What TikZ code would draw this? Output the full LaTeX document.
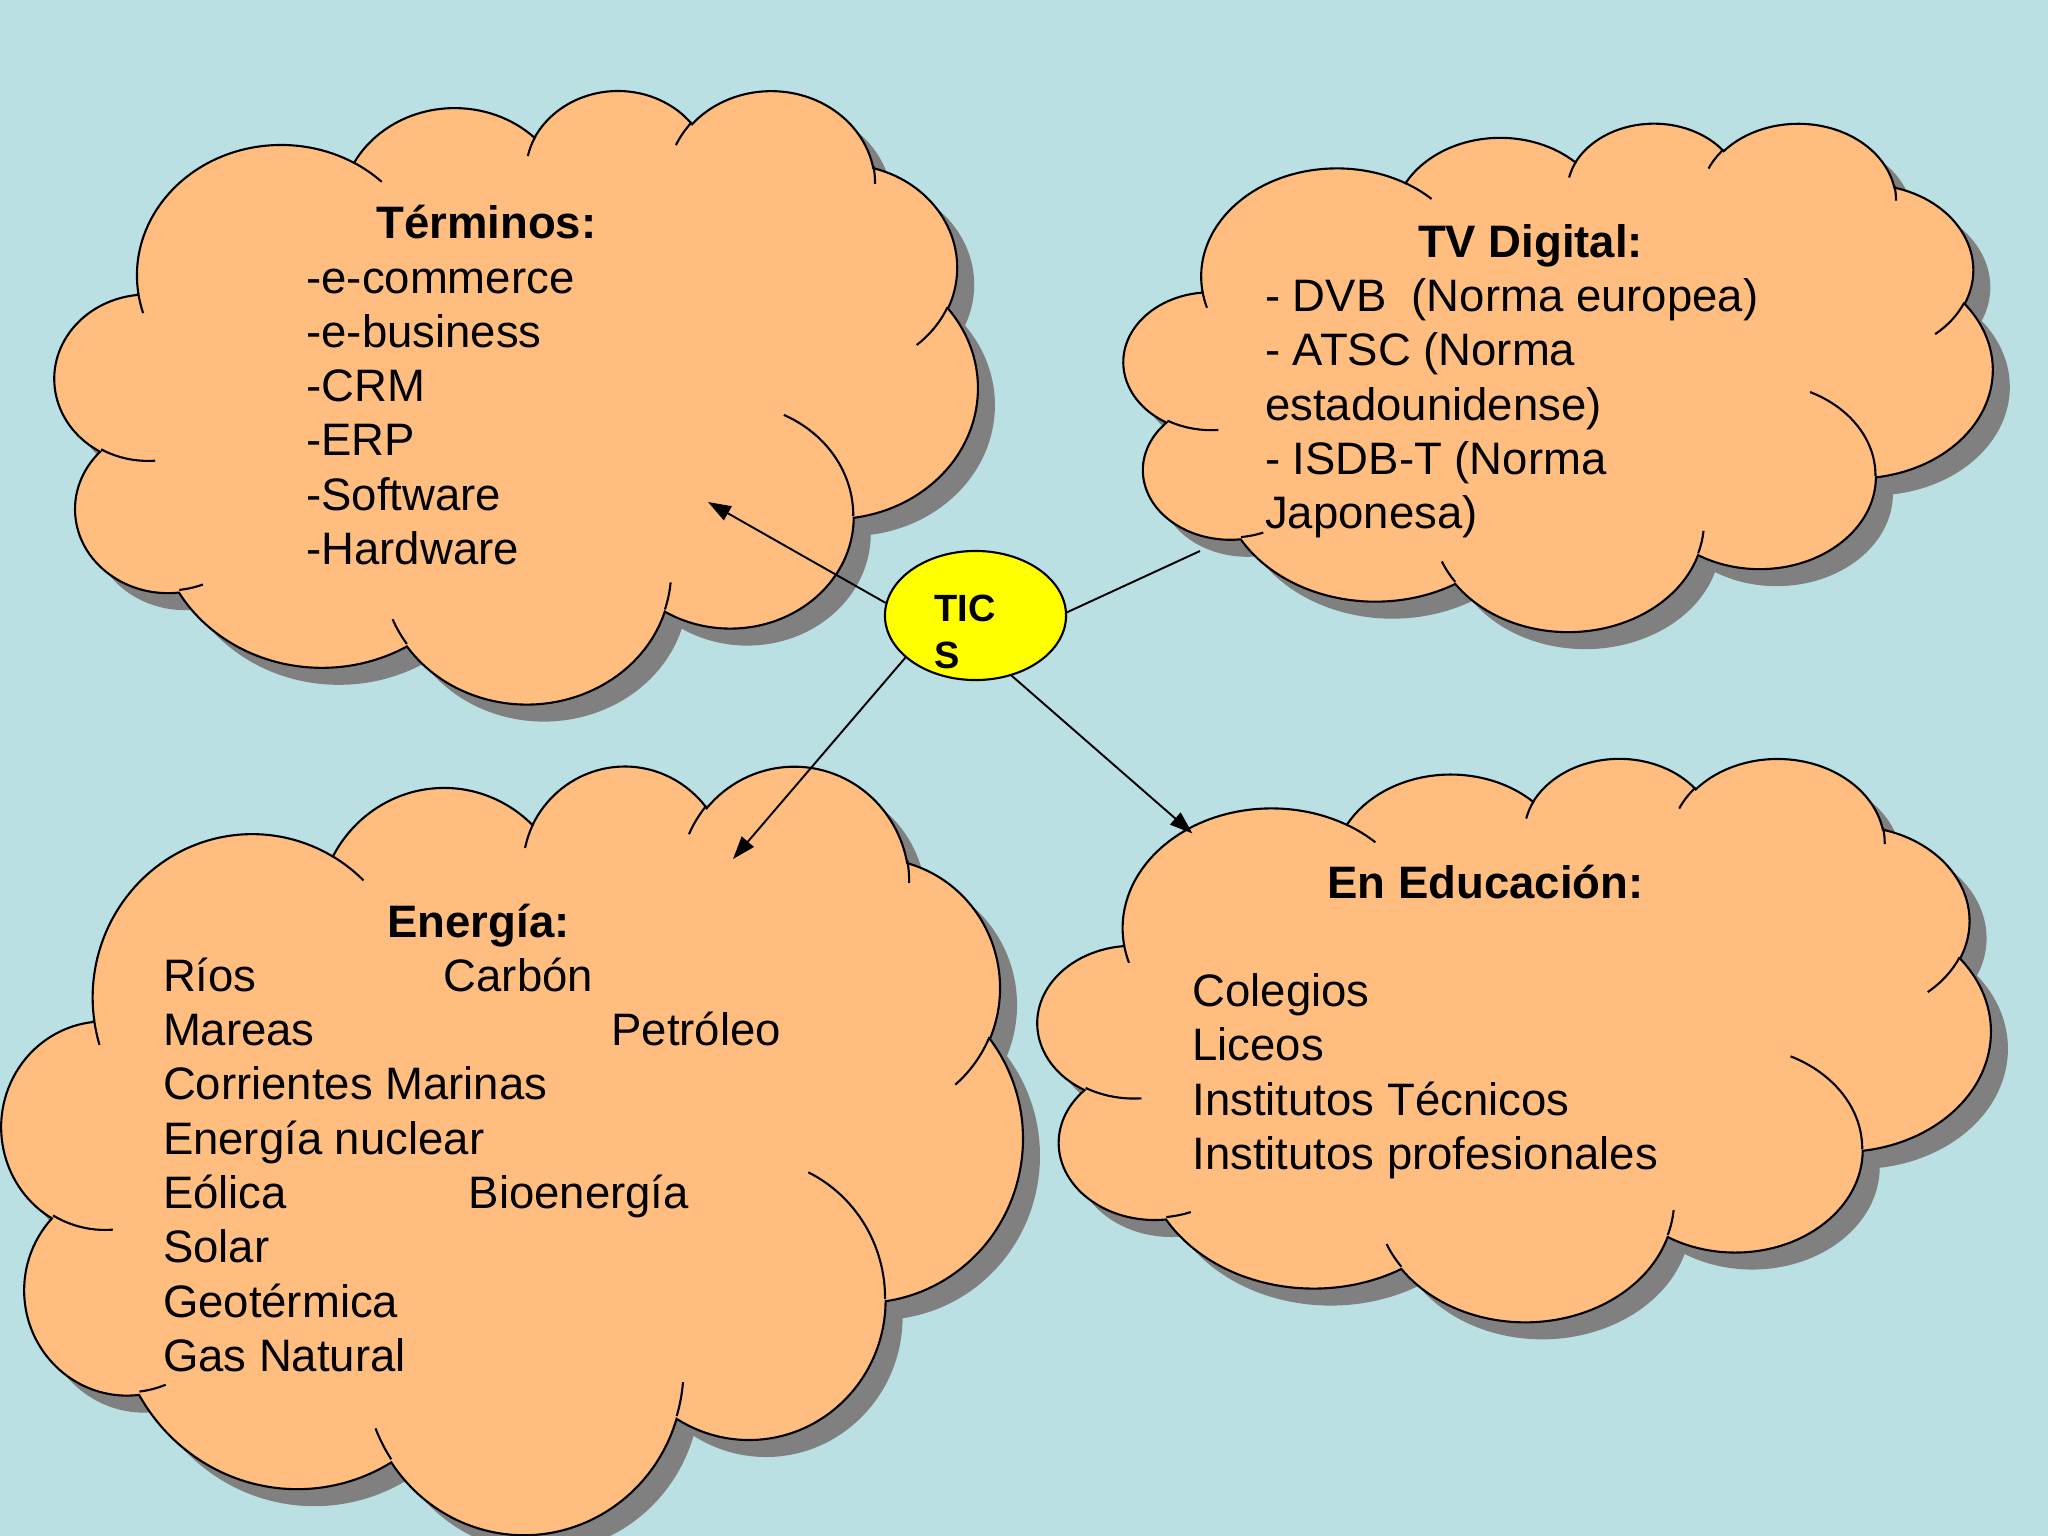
\documentclass[tikz,border=0pt]{standalone}
\usepackage{fontspec}
\setmainfont{Liberation Sans}
\usetikzlibrary{arrows.meta,shapes.geometric}
\definecolor{bgblue}{RGB}{187,224,227}
\definecolor{cloudfill}{RGB}{255,190,128}
\definecolor{shadowgray}{RGB}{128,128,128}
\definecolor{ticsyellow}{RGB}{255,255,0}
% OOXML arcTo (visual angles) -> TikZ parametric arc
\newcommand\defooarc[5]{%
  \pgfmathsetmacro\ooa{atan2((#2)*sin(#4),(#3)*cos(#4))}%
  \pgfmathsetmacro\oob{atan2((#2)*sin((#4)+(#5)),(#3)*cos((#4)+(#5)))}%
  \pgfmathsetmacro\ood{mod((\oob)-(\ooa)+720,360)}%
  \xdef#1{arc[start angle=\ooa, delta angle=\ood, x radius=#2, y radius=#3]}%
}
\defooarc\cA{6.753}{9.190}{-190.4875}{123.7805}
\defooarc\cB{5.333}{7.267}{-144.1024}{89.9452}
\defooarc\cC{4.365}{5.945}{-145.8079}{99.7230}
\defooarc\cD{4.857}{6.595}{-130.9861}{117.2417}
\defooarc\cE{5.333}{7.273}{-78.7089}{109.0269}
\defooarc\cF{6.775}{9.220}{-46.2673}{130.2690}
\defooarc\cG{5.785}{7.867}{0.6250}{114.0333}
\defooarc\cH{6.752}{9.215}{22.4516}{115.1726}
\defooarc\cI{7.720}{10.543}{66.2426}{75.7110}
\defooarc\cJ{4.360}{5.918}{-274.9421}{146.7356}
\defooarc\cK{4.345}{5.945}{-246.8285}{152.5189}
\defooarc\rA{4.345}{5.945}{86.7420}{26.4295}
\defooarc\rB{4.360}{5.918}{73.6105}{11.4475}
\defooarc\rC{6.752}{9.215}{137.6242}{14.0811}
\defooarc\rD{6.752}{9.215}{6.4533}{15.9984}
\defooarc\rE{5.785}{7.867}{-70.2924}{70.9174}
\defooarc\rF{5.333}{7.273}{30.3180}{27.7515}
\defooarc\rG{4.857}{6.595}{-13.7443}{14.8589}
\defooarc\rH{4.857}{6.595}{-149.1815}{18.1954}
\defooarc\rI{4.365}{5.945}{-163.4943}{17.6864}
\defooarc\rJ{6.753}{9.190}{-66.7070}{12.3194}
\defooarc\rK{6.753}{9.190}{157.6544}{11.8582}
\def\cloudoutline{(3.9,14.37) \cA \cB \cC \cD \cE \cF \cG \cH \cI \cJ \cK -- cycle}
\def\cloudcreases{(4.693,26.177) \rA (6.928,34.899) \rB (16.478,39.09) \rC (28.827,34.751) \rD (34.129,22.954) \rE (41.798,15.354) \rF (38.324,5.426) \rG (29.078,3.952) \rH (22.141,4.72) \rI (14,5.192) \rJ (4.127,15.789) \rK}
\newcommand\ticcloud[4]{%
  \begin{scope}[shift={(#1+17,#2+17)},x=1cm,y=1cm,xscale=#3/4320,yscale=-#4/4320]
    \fill[shadowgray] \cloudoutline;
  \end{scope}
  \begin{scope}[shift={(#1,#2)},x=1cm,y=1cm,xscale=#3/4320,yscale=-#4/4320]
    \filldraw[cloudline] \cloudoutline;
    \draw[cloudline,fill=none] \cloudcreases;
  \end{scope}}
\begin{document}
\begin{tikzpicture}[x=0.01cm,y=-0.01cm,
  cloudline/.style={draw=black,fill=cloudfill,line width=0.6pt},
  txt/.style={inner sep=0pt,anchor=base west,font=\fontsize{12.94}{15.5}\selectfont},
  ttl/.style={txt,font=\fontsize{12.94}{15.5}\selectfont\bfseries},
  ticstxt/.style={inner sep=0pt,anchor=base west,font=\fontsize{10.8}{13.3}\selectfont\bfseries},
  conn/.style={draw=black,line width=0.55pt},
  arr/.style={conn,-{Triangle[length=6.5pt,width=4.5pt]}}]
\useasboundingbox (0,0) rectangle (2048,1536);
\fill[bgblue] (0,0) rectangle (2048,1536);
% clouds
\ticcloud{55}{89}{922}{613}
\ticcloud{1124}{122}{868}{508}
\ticcloud{2}{764}{1020}{768}
\ticcloud{1038}{757}{952}{563}
% Términos
\node[ttl] (termT) at (375.6,238.7) {Términos:};
\node[txt] (term1) at (305.7,293.3) {-e-commerce};
\node[txt] (term2) at (305.7,347.5) {-e-business};
\node[txt] (term3) at (305.7,401.7) {-CRM};
\node[txt] (term4) at (305.7,455.9) {-ERP};
\node[txt] (term5) at (305.7,510.1) {-Software};
\node[txt] (term6) at (305.7,564.3) {-Hardware};
% TV Digital
\node[ttl] (tvT) at (1417.4,257) {TV Digital:};
\node[txt] (tv1) at (1264.5,311.4) {- DVB\ \ (Norma europea)};
\node[txt] (tv2) at (1264.5,365.7) {- ATSC (Norma};
\node[txt] (tv3) at (1264.5,420) {estadounidense)};
\node[txt] (tv4) at (1264.5,474.3) {- ISDB-T (Norma};
\node[txt] (tv5) at (1264.5,528.6) {Japonesa)};
% Energía
\node[ttl] (enT) at (386.7,937) {Energía:};
\node[txt] (en1) at (162.3,991.3) {\makebox[2.806cm][l]{Ríos}Carbón};
\node[txt] (en2) at (162.3,1045.6) {\makebox[4.482cm][l]{Mareas}Petróleo};
\node[txt] (en3) at (162.3,1099.9) {Corrientes Marinas};
\node[txt] (en4) at (162.3,1154.2) {Energía nuclear};
\node[txt] (en5) at (162.3,1208.5) {\makebox[3.056cm][l]{Eólica}Bioenergía};
\node[txt] (en6) at (162.3,1262.8) {Solar};
\node[txt] (en7) at (162.3,1317.1) {Geotérmica};
\node[txt] (en8) at (162.3,1371.4) {Gas Natural};
% Educación
\node[ttl] (edT) at (1326.9,898) {En Educación:};
\node[txt] (ed1) at (1191.8,1006.6) {Colegios};
\node[txt] (ed2) at (1191.8,1060.9) {Liceos};
\node[txt] (ed3) at (1191.8,1115.2) {Institutos Técnicos};
\node[txt] (ed4) at (1191.8,1169.5) {Institutos profesionales};
% TICS
\node[ellipse,draw=black,line width=0.6pt,fill=ticsyellow,inner sep=0pt,
      minimum width=1.81cm,minimum height=1.29cm] (tics) at (975.5,615.5) {};
\node[ticstxt] (ticsA) at (933.6,621.7) {TIC};
\node[ticstxt] (ticsB) at (934,668.5) {S};
% connectors
\coordinate (tipT) at (708,502);
\coordinate (endTV) at (1200,551);
\coordinate (tipE) at (733,859);
\coordinate (tipD) at (1192.5,833.5);
\draw[arr] (tics.172) -- (tipT);
\draw[conn] (tics.2.4) -- (endTV);
\draw[arr] (tics.211.6) -- (tipE);
\draw[arr] (tics.-59.2) -- (tipD);
\end{tikzpicture}
\end{document}
